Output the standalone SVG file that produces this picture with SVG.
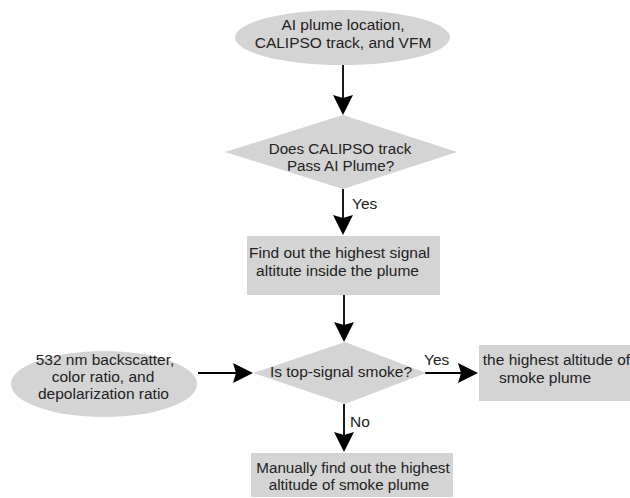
<svg xmlns="http://www.w3.org/2000/svg" width="630" height="498" viewBox="0 0 630 498">
<style>
.shape{fill:#d4d4d4;stroke:none}
.t{font-family:"Liberation Sans",Arial,sans-serif;font-size:15.5px;fill:#222}
.s{font-size:15.2px}
.c{text-anchor:middle}
.conn{stroke:#000;stroke-width:1.8;fill:none;marker-end:url(#ah)}
</style>
<defs>
<marker id="ah" viewBox="0 0 20 20" refX="10" refY="10" markerWidth="20" markerHeight="20" markerUnits="userSpaceOnUse" orient="auto">
<path d="M0,0 L20,10 L0,20 L3,10 Z" fill="#000"/>
</marker>
</defs>
<rect width="630" height="498" fill="#fff"/>
<g id="connectors">
<line class="conn" x1="343" y1="65" x2="343" y2="105"/>
<line class="conn" x1="343" y1="189" x2="343" y2="225"/>
<line class="conn" x1="344" y1="295" x2="344" y2="332"/>
<line class="conn" x1="198" y1="373" x2="243" y2="373"/>
<line class="conn" x1="425" y1="373" x2="468" y2="373"/>
<line class="conn" x1="344" y1="404" x2="344" y2="442"/>
<text class="t" x="352" y="209">Yes</text>
<text class="t" x="424" y="365">Yes</text>
<text class="t" x="350" y="427">No</text>
</g>
<g id="start">
<ellipse class="shape" cx="342.5" cy="37.5" rx="107.5" ry="27.5"/>
<text class="t c" x="343" y="30">AI plume location,</text>
<text class="t c" x="343" y="48">CALIPSO track, and VFM</text>
</g>
<g id="decision1">
<polygon class="shape" points="343,115 457,152 343,189 225,152"/>
<text class="t s c" x="340" y="154">Does CALIPSO track</text>
<text class="t s c" x="340.5" y="171">Pass AI Plume?</text>
</g>
<g id="find">
<rect class="shape" x="247" y="236" width="193" height="59"/>
<text class="t c" x="339.5" y="258">Find out the highest signal</text>
<text class="t c" x="337.5" y="276">altitute inside the plume</text>
</g>
<g id="inputs">
<ellipse class="shape" cx="104" cy="384" rx="93" ry="33"/>
<text class="t c" x="105" y="365">532 nm backscatter,</text>
<text class="t c" x="103" y="382">color ratio, and</text>
<text class="t c" x="103.5" y="399">depolarization ratio</text>
</g>
<g id="decision2">
<polygon class="shape" points="345,342 426,373 345,404 253,373"/>
<text class="t c" x="341" y="377">Is top-signal smoke?</text>
</g>
<g id="result">
<rect class="shape" x="479" y="345" width="151" height="56"/>
<text class="t c" x="556.5" y="365">the highest altitude of</text>
<text class="t c" x="545" y="383">smoke plume</text>
</g>
<g id="manual">
<rect class="shape" x="251" y="453" width="202" height="44"/>
<text class="t s c" x="353" y="473">Manually find out the highest</text>
<text class="t s c" x="349" y="490">altitude of smoke plume</text>
</g>
</svg>
